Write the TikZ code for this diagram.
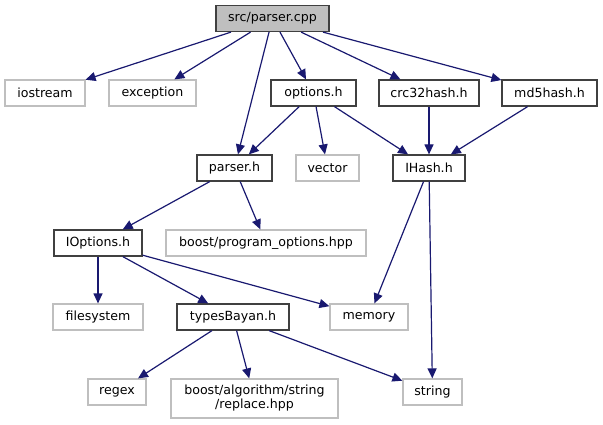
\documentclass[tikz,border=0pt]{standalone}
\usepackage{fontspec}
\setmainfont{DejaVu Sans}
\usetikzlibrary{arrows.meta}
\definecolor{edgeblue}{HTML}{191970}
\definecolor{boxgray}{HTML}{404040}
\definecolor{extgray}{HTML}{BFBFBF}
\tikzset{
  file/.style={draw=boxgray,line width=1.2pt,minimum height=26pt,inner sep=2pt,font=\fontsize{12.6}{14}\selectfont},
  sysfile/.style={file,draw=extgray},
  mainfile/.style={file,fill=extgray},
  edge/.style={draw=edgeblue,line width=1.2pt,-{Triangle[length=10pt,width=9pt]}}
}
\begin{document}
\begin{tikzpicture}[x=1pt,y=-1pt]
    \useasboundingbox (0,0) rectangle (603,425);
    \node[mainfile,minimum width=113pt] (cpp) at (272.5,18.5) {src/parser.cpp};
    \node[sysfile,minimum width=80pt] (iostream) at (45,93) {iostream};
    \node[sysfile,minimum width=87pt] (exception) at (152.5,93) {exception};
    \node[file,minimum width=85pt] (options) at (313.5,93) {options.h};
    \node[file,minimum width=100pt] (crc) at (429,93) {crc32hash.h};
    \node[file,minimum width=95pt] (md5) at (549.5,93) {md5hash.h};
    \node[file,minimum width=75pt] (parser) at (234.5,168) {parser.h};
    \node[sysfile,minimum width=63pt] (vector) at (327.5,168) {vector};
    \node[file,minimum width=72pt] (ihash) at (429,168) {IHash.h};
    \node[file,minimum width=88pt] (ioptions) at (98,243) {IOptions.h};
    \node[sysfile,minimum width=200pt] (progopt) at (266,243) {boost/program\_options.hpp};
    \node[sysfile,minimum width=90pt] (filesystem) at (98,317) {filesystem};
    \node[file,minimum width=112pt] (types) at (233,317) {typesBayan.h};
    \node[sysfile,minimum width=78pt] (memory) at (369,317) {memory};
    \node[sysfile,minimum width=58pt] (regex) at (117,392) {regex};
    \node[sysfile,minimum width=167pt,minimum height=39pt,align=center] (replace) at (254.5,398.5) {boost/algorithm/string\\/replace.hpp};
    \node[sysfile,minimum width=59pt] (string) at (432.5,392) {string};
    \draw[edge] (cpp) -- (iostream);
    \draw[edge] (cpp) -- (exception);
    \draw[edge] (cpp) -- (options);
    \draw[edge] (cpp) -- (crc);
    \draw[edge] (cpp) -- (md5);
    \draw[edge] (cpp) -- (parser);
    \draw[edge] (options) -- (parser);
    \draw[edge] (options) -- (vector);
    \draw[edge] (options) -- (ihash);
    \draw[edge] (crc) -- (ihash);
    \draw[edge] (md5) -- (ihash);
    \draw[edge] (parser) -- (ioptions);
    \draw[edge] (parser) -- (progopt);
    \draw[edge] (ihash) -- (memory);
    \draw[edge] (ihash) -- (string);
    \draw[edge] (ioptions) -- (filesystem);
    \draw[edge] (ioptions) -- (types);
    \draw[edge] (ioptions) -- (memory);
    \draw[edge] (types) -- (regex);
    \draw[edge] (types) -- (replace);
    \draw[edge] (types) -- (string);
\end{tikzpicture}
\end{document}
